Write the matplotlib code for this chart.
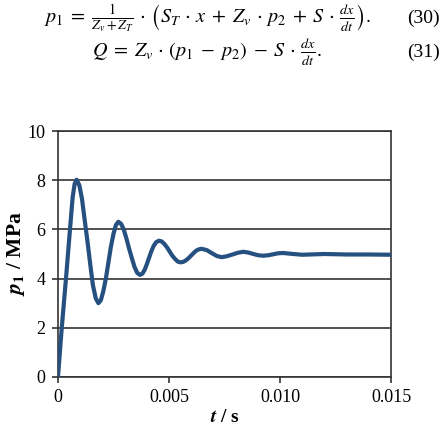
import matplotlib.pyplot as plt
from matplotlib.ticker import FixedLocator, FixedFormatter

# time in ms, pressure in MPa
t_ms = [0, 0.17, 0.36, 0.54, 0.66, 0.75, 0.84, 0.96, 1.08, 1.20, 1.33, 1.45,
        1.57, 1.70, 1.82, 1.93, 2.04, 2.16, 2.27, 2.38, 2.50, 2.61, 2.72,
        2.84, 2.96, 3.08, 3.20, 3.33, 3.45, 3.57, 3.69, 3.80, 3.90, 4.00,
        4.10, 4.20, 4.31, 4.42, 4.55, 4.67, 4.79, 4.91, 5.03, 5.15, 5.28,
        5.40, 5.52, 5.64, 5.76, 5.88, 6.00, 6.12, 6.23, 6.35, 6.47, 6.70,
        6.92, 7.15, 7.37, 7.61, 7.86, 8.10, 8.35, 8.57, 8.80, 9.02, 9.25,
        9.48, 9.70, 9.92, 10.15, 10.60, 11.0, 12.0, 13.0, 14.0, 15.0]
p1 = [0.0, 2.0, 4.0, 6.0, 7.3, 7.85, 8.02, 7.8, 7.25, 6.4, 5.5, 4.6,
      3.75, 3.2, 3.0, 3.12, 3.48, 4.02, 4.65, 5.28, 5.82, 6.18, 6.31,
      6.23, 6.0, 5.64, 5.23, 4.82, 4.47, 4.23, 4.15, 4.2, 4.35, 4.58,
      4.84, 5.1, 5.33, 5.48, 5.54, 5.51, 5.41, 5.27, 5.1, 4.93, 4.79,
      4.69, 4.66, 4.68, 4.74, 4.83, 4.94, 5.05, 5.14, 5.19, 5.21, 5.16,
      5.04, 4.92, 4.87, 4.91, 4.98, 5.05, 5.09, 5.06, 5.0, 4.95, 4.93,
      4.95, 4.99, 5.03, 5.04, 5.0, 4.97, 5.0, 4.98, 4.98, 4.97]

x_ticks = [0, 0.005, 0.010, 0.015]
x_labels = ["0", "0.005", "0.010", "0.015"]
y_ticks = [0, 2, 4, 6, 8, 10]

plt.rcParams["mathtext.fontset"] = "stix"
plt.rcParams["font.family"] = ["Liberation Serif", "DejaVu Serif"]

fig = plt.figure(figsize=(4.45, 4.30), dpi=100)

# equations above the chart
eq30 = (r"$p_1\;=\;\frac{1}{Z_v+Z_T}\,\cdot\,\left(S_T\,\cdot\,x\;+\;Z_v\,\cdot\,p_2"
        r"\;+\;S\,\cdot\,\frac{dx}{dt}\right).$")
eq31 = r"$Q\;=\;Z_v\,\cdot\,\left(p_1\;-\;p_2\right)\;-\;S\,\cdot\,\frac{dx}{dt}.$"
fig.text(0.465, 0.958, eq30, ha="center", va="center", fontsize=14.5)
fig.text(0.988, 0.958, "(30)", ha="right", va="center", fontsize=14)
fig.text(0.465, 0.878, eq31, ha="center", va="center", fontsize=14.5)
fig.text(0.988, 0.878, "(31)", ha="right", va="center", fontsize=14)

ax = fig.add_axes([0.1303, 0.1233, 0.7484, 0.572])
t_s = [v / 1000 for v in t_ms]
ax.plot(t_s, p1, color="#25507f", lw=3.0, solid_capstyle="round", zorder=3)

ax.set_xlim(0, 0.015)
ax.set_ylim(0, 10)
ax.xaxis.set_major_locator(FixedLocator(x_ticks))
ax.xaxis.set_major_formatter(FixedFormatter(x_labels))
ax.set_yticks(y_ticks)
ax.yaxis.grid(True, color="#333333", lw=1.2)
ax.set_axisbelow(True)
for s in ax.spines.values():
    s.set_color("#333333")
    s.set_linewidth(1.2)
ax.tick_params(direction="out", length=4, width=1.2, color="#333333",
               labelsize=13, pad=5)

ax.set_ylabel(r"$\boldsymbol{p}_\mathbf{1}$ / MPa", fontsize=15.5, fontweight="bold")
ax.yaxis.set_label_coords(-0.093, 0.5)
ax.set_xlabel(r"$\boldsymbol{t}$ / s", fontsize=14, fontweight="bold", labelpad=2)

fig.savefig("out.png", dpi=100)
